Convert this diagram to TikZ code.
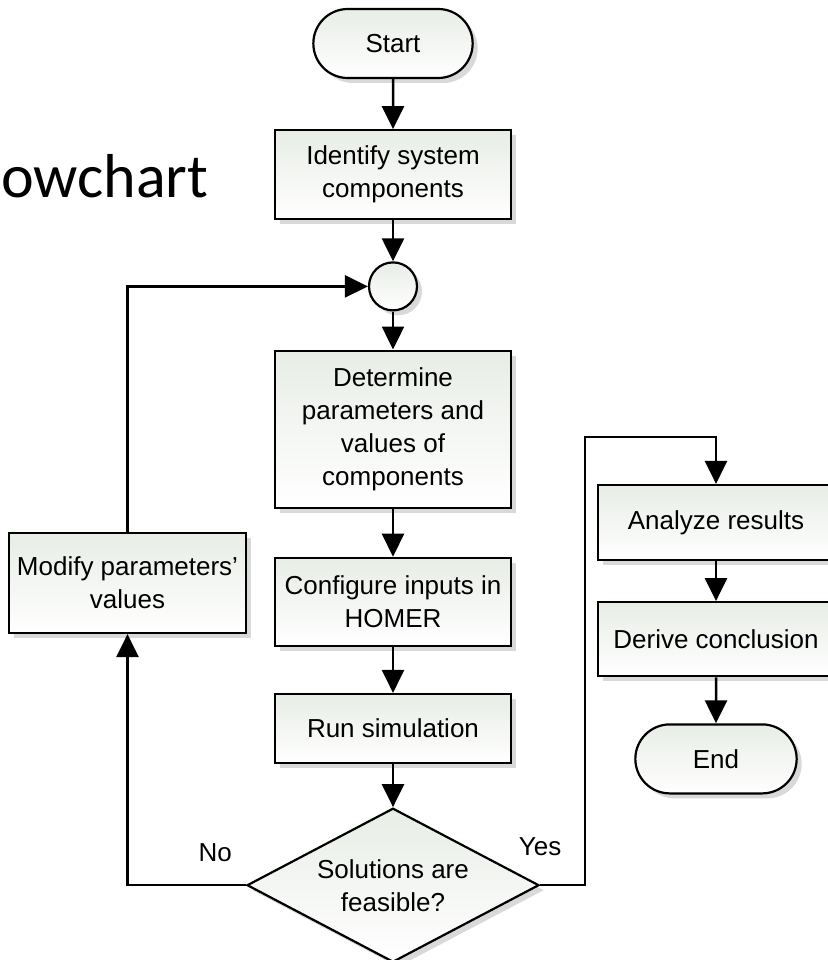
\documentclass[tikz,border=0pt]{standalone}
\usepackage{fontspec}
\setmainfont{Liberation Sans}
\newfontfamily\titlefont{Carlito}
\usetikzlibrary{positioning,arrows.meta,shapes.geometric,shapes.misc,shadows}
\definecolor{boxfill}{RGB}{232,237,230}

\begin{document}
\begin{tikzpicture}[
    x=1pt, y=1pt,
    every node/.style={font=\fontsize{26}{33}\selectfont},
    boxshade/.style={top color=boxfill, bottom color=white, drop shadow={shadow xshift=5pt, shadow yshift=-5pt, opacity=0.3}},
    box/.style={rectangle, draw, line width=2.2pt, minimum width=236pt, align=center, inner sep=2pt, boxshade},
    term/.style={rounded rectangle, draw, line width=2.2pt, minimum width=166pt, minimum height=69pt, boxshade},
    joint/.style={circle, draw, line width=2.2pt, minimum size=48pt, inner sep=0pt, boxshade},
    decide/.style={diamond, draw, line width=2.2pt, minimum width=292pt, minimum height=154pt, aspect=1.9, inner sep=0pt, align=center, boxshade},
    answer/.style={inner sep=0pt},
    arrow/.style={-{Triangle[length=23pt,width=22pt]}, line width=2.5pt}
]
    \useasboundingbox (0,0) rectangle (827,-960);

    \node[font={\titlefont\fontsize{62}{70}\selectfont}, anchor=base west, inner sep=0pt] (title) at (1,-197) {owchart};

    \node[term] (start) at (393,-43.5) {Start};
    \node[box, minimum height=89pt, below=50pt of start] (identify) {Identify system\\components};
    \node[joint, below=41pt of identify] (junction) {};
    \node[box, minimum height=157pt, below=38pt of junction] (determine) {Determine\\parameters and\\values of\\components};
    \node[box, minimum height=88pt, below=48pt of determine] (configure) {Configure inputs in\\HOMER};
    \node[box, minimum height=69pt, below=46pt of configure] (run) {Run simulation};
    \node[decide, below=43pt of run] (decision) {Solutions are\\feasible?};

    \node[box, minimum width=237pt, minimum height=100pt] (modify) at (127.5,-583) {Modify parameters’\\values};

    \node[box, minimum height=75pt] (analyze) at (716,-522.5) {Analyze results};
    \node[box, minimum height=74pt, below=40pt of analyze] (derive) {Derive conclusion};
    \node[term, minimum width=168pt, below=46pt of derive] (stop) {End};

    \draw[arrow] (start) -- (identify);
    \draw[arrow] (identify) -- (junction);
    \draw[arrow] (junction) -- (determine);
    \draw[arrow] (determine) -- (configure);
    \draw[arrow] (configure) -- (run);
    \draw[arrow] (run) -- (decision);

    \draw[arrow] (decision.west) -| node[answer, pos=0.13, above=22pt] {No} (modify.south);
    \draw[arrow] (modify.north) |- (junction.west);

    \draw[arrow] (decision.east) -- node[answer, pos=0, above=28pt] {Yes} ++(45,0) |- ([yshift=47pt]analyze.north) -- (analyze.north);
    \draw[arrow] (analyze) -- (derive);
    \draw[arrow] (derive) -- (stop);
\end{tikzpicture}
\end{document}
